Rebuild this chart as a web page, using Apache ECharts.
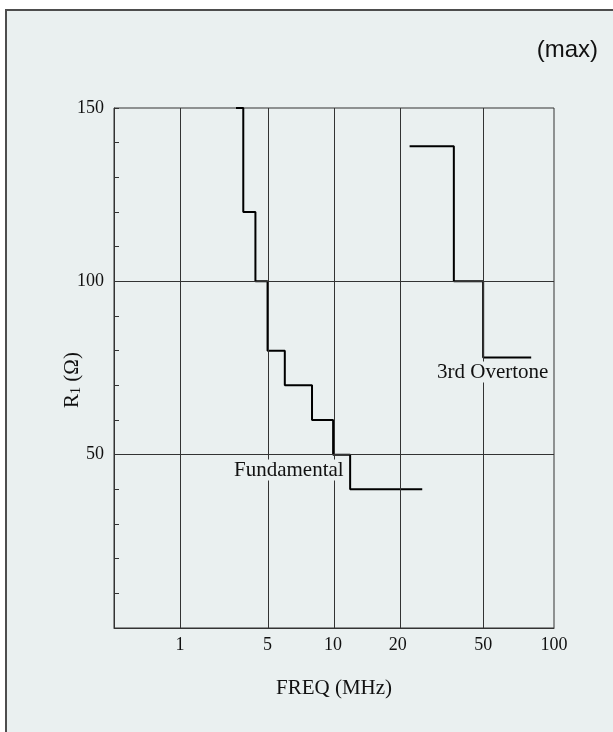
<!DOCTYPE html>
<html>
<head>
<meta charset="utf-8">
<script src="https://cdn.jsdelivr.net/npm/echarts@6/dist/echarts.min.js"></script>
<style>
html,body{margin:0;padding:0;background:#fff;}
#chart{width:613px;height:732px;}
</style>
</head>
<body>
<div id="chart"></div>
<script>
// ---- data ----
const tickLabels = [1, 5, 10, 20, 50, 100];          // MHz tick labels
const fundFreq = [2.8, 3.2, 4.0, 5, 6, 8, 10, 12, 26];   // MHz, step starts
const fundR    = [150, 120, 100, 80, 70, 60, 50, 40, 40]; // ohm
const overFreq = [22.7, 36.5, 50, 80];
const overR    = [139, 100, 78, 78];
const yLabelValues = [50, 100, 150];     // labelled y ticks
const yGridValues = [50, 100];           // horizontal grid lines
const yMin = 0, yMax = 150, yMinorStep = 10;

// ---- axis layout (non-uniform hand-drawn frequency axis) ----
const tickPos = [0.150, 0.349, 0.498, 0.645, 0.839, 1.0]; // fraction of axis length
function posOf(f) {
  const n = tickLabels.length;
  let i = 0;
  while (i < n - 2 && f > tickLabels[i + 1]) i++;
  const a = Math.log(tickLabels[i]), b = Math.log(tickLabels[i + 1]);
  const t = (Math.log(f) - a) / (b - a);
  return tickPos[i] + t * (tickPos[i + 1] - tickPos[i]);
}
function labelOf(p) {
  let best = 0;
  tickPos.forEach((q, i) => { if (Math.abs(q - p) < Math.abs(tickPos[best] - p)) best = i; });
  return String(tickLabels[best]);
}

const PANEL = '#eaf0f0';
const serif = 'Liberation Serif';
const chart = echarts.init(document.getElementById('chart'));
chart.setOption({
  backgroundColor: '#ffffff',
  animation: false,
  graphic: [
    { type: 'rect', z: -1, shape: { x: 6, y: 10, width: 700, height: 800 },
      style: { fill: PANEL, stroke: '#4d4d4d', lineWidth: 2 } },
    { type: 'text', z: 100, x: 598, y: 50,
      style: { text: '(max)', font: '24px "Liberation Sans"', fill: '#111', align: 'right', verticalAlign: 'middle' } },
    { type: 'text', z: 100, x: 233, y: 470,
      style: { text: 'Fundamental', font: '21px "Liberation Serif"', fill: '#111', align: 'left', verticalAlign: 'middle',
               backgroundColor: PANEL, padding: [0, 1] } },
    { type: 'text', z: 100, x: 436, y: 372,
      style: { text: '3rd Overtone', font: '21px "Liberation Serif"', fill: '#111', align: 'left', verticalAlign: 'middle',
               backgroundColor: PANEL, padding: [0, 1] } }
  ],
  grid: { left: 114, right: 59, top: 108, bottom: 104, show: true, borderColor: '#333', borderWidth: 1, backgroundColor: 'transparent' },
  xAxis: {
    type: 'value', min: 0, max: 1,
    name: 'FREQ (MHz)', nameLocation: 'middle', nameGap: 50,
    nameTextStyle: { fontFamily: serif, fontSize: 21, color: '#111' },
    axisLine: { show: true, onZero: false, lineStyle: { color: '#333', width: 1 } },
    axisTick: { show: false },
    splitLine: { show: false },
    axisLabel: { customValues: tickPos, formatter: v => labelOf(v), fontFamily: serif, fontSize: 18, color: '#111', margin: 8 }
  },
  yAxis: {
    type: 'value', min: yMin, max: yMax, interval: yMinorStep,
    name: '{r|R}{s|1}{r| (Ω)}', nameLocation: 'middle', nameGap: 31, nameRotate: 90, nameMoveOverlap: false,
    nameTextStyle: { padding: [0, 24, 0, 0], rich: { r: { fontFamily: serif, fontSize: 21, color: '#111' }, s: { fontFamily: serif, fontSize: 14, color: '#111', verticalAlign: 'bottom', padding: [6, 0, 0, 0] } } },
    axisLine: { show: true, lineStyle: { color: '#333', width: 1 } },
    axisTick: { show: true, inside: true, length: 5, lineStyle: { color: '#333', width: 1 } },
    splitLine: { show: false },
    axisLabel: { formatter: v => (yLabelValues.indexOf(v) >= 0 ? String(v) : ''), fontFamily: serif, fontSize: 18, color: '#111', margin: 10 }
  },
  series: [
    {
      type: 'line', data: [], silent: true, z: 1,
      markLine: {
        silent: true, symbol: 'none', label: { show: false },
        lineStyle: { color: '#333', width: 1, type: 'solid' },
        data: tickPos.slice(0, tickPos.length - 1).map(p => ({ xAxis: p }))
          .concat(yGridValues.map(v => ({ yAxis: v })))
      }
    },
    {
      name: 'Fundamental', type: 'line', step: 'end', z: 3,
      data: fundFreq.map((f, i) => [posOf(f), fundR[i]]),
      showSymbol: false, lineStyle: { color: '#000', width: 2 }
    },
    {
      name: '3rd Overtone', type: 'line', step: 'end', z: 3,
      data: overFreq.map((f, i) => [posOf(f), overR[i]]),
      showSymbol: false, lineStyle: { color: '#000', width: 2 }
    }
  ]
});
</script>
</body>
</html>
